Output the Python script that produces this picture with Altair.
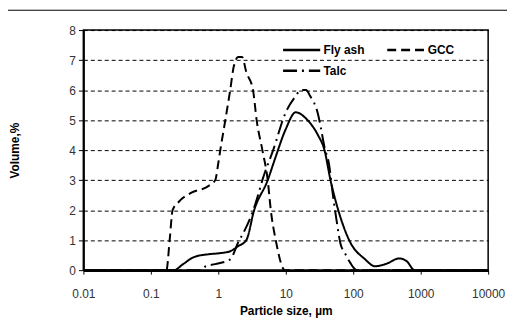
import altair as alt
import pandas as pd

# ---- data ----
fly_x = [0.01, 0.22, 0.3, 0.43, 0.71, 1.0, 1.5, 1.97, 2.6, 3.4, 5.4, 6.9, 10, 14, 21, 30, 37.5, 46, 60, 87, 150, 210, 300, 480, 620, 810, 10000]
fly_y = [0.0, 0.0, 0.2, 0.43, 0.53, 0.56, 0.63, 0.8, 1.0, 2.0, 3.0, 3.7, 4.7, 5.26, 5.0, 4.5, 4.0, 3.0, 2.0, 1.0, 0.36, 0.13, 0.2, 0.39, 0.3, 0.0, 0.0]

gcc_x = [0.01, 0.17, 0.19, 0.21, 0.26, 0.4, 0.71, 0.9, 1.0, 1.07, 1.27, 1.5, 1.7, 1.97, 2.25, 2.6, 3.27, 3.7, 4.5, 5.4, 6.0, 7.1, 9.7, 10000]
gcc_y = [0.0, 0.0, 1.0, 2.0, 2.28, 2.58, 2.8, 3.0, 3.57, 4.0, 5.0, 6.0, 6.8, 7.1, 7.1, 6.6, 6.0, 5.0, 4.0, 3.0, 2.0, 1.0, 0.0, 0.0]

talc_x = [0.01, 0.55, 0.65, 0.9, 1.5, 2.0, 2.3, 3.3, 4.0, 4.5, 6.5, 10, 13.5, 17, 20, 23, 30, 33, 37.5, 44, 50, 58, 65, 74, 90, 107, 120, 10000]
talc_y = [0.0, 0.0, 0.13, 0.2, 0.36, 0.96, 1.2, 2.0, 2.6, 3.0, 4.0, 5.26, 5.75, 6.0, 6.0, 5.8, 5.2, 4.76, 4.1, 3.5, 2.5, 1.5, 0.86, 0.6, 0.25, 0.03, 0.0, 0.0]

series = ["Fly ash", "GCC", "Talc"]
x_ticks = [0.01, 0.1, 1, 10, 100, 1000, 10000]
y_ticks = [0, 1, 2, 3, 4, 5, 6, 7, 8]

rows = []
for name, xs, ys in [("Fly ash", fly_x, fly_y), ("GCC", gcc_x, gcc_y), ("Talc", talc_x, talc_y)]:
    for i, (a, b) in enumerate(zip(xs, ys)):
        rows.append({"size": a, "vol": b, "series": name, "order": i})
df = pd.DataFrame(rows)

FONT = "Liberation Sans"

lines = alt.Chart(df).mark_line(
    color="black", strokeWidth=2, interpolate="monotone", clip=True
).encode(
    x=alt.X("size:Q",
            scale=alt.Scale(type="log", domain=[0.01, 10000], nice=False),
            axis=alt.Axis(values=x_ticks, labelExpr="datum.value + ''",
                          title="Particle size, µm", grid=False, labelFlush=False,
                          tickSize=4, labelPadding=15, titlePadding=6)),
    y=alt.Y("vol:Q",
            scale=alt.Scale(domain=[0, 8], nice=False),
            axis=alt.Axis(values=y_ticks, title="Volume,%", grid=True,
                          tickSize=5, labelPadding=3, titlePadding=48)),
    strokeDash=alt.StrokeDash(
        "series:N",
        scale=alt.Scale(domain=series, range=[[1, 0], [9, 5], [14, 5, 2, 5]]),
        legend=alt.Legend(title=None, orient="none", legendX=200, legendY=13,
                          direction="horizontal",
                          columns=2, columnPadding=21, rowPadding=7,
                          symbolType="stroke", symbolSize=1400, clipHeight=14,
                          symbolStrokeWidth=2.5, symbolStrokeColor="black",
                          labelFont=FONT, labelFontSize=12, labelFontWeight="bold",
                          labelColor="black", labelOffset=2),
    ),
    order="order:Q",
)

frame_top = alt.Chart(pd.DataFrame({"a": [0]})).mark_rule(
    color="black", strokeWidth=1, clip=False
).encode(x=alt.value(-77), x2=alt.value(440), y=alt.value(-20))
frame_left = alt.Chart(pd.DataFrame({"a": [0]})).mark_rule(
    color="black", strokeWidth=1, clip=False
).encode(x=alt.value(-77), y=alt.value(-20), y2=alt.value(292))

chart = alt.layer(frame_top, frame_left, lines).properties(
    width=408, height=242,
    autosize=alt.AutoSizeParams(type="none"),
    padding={"left": 76, "top": 21, "right": 19, "bottom": 50},
).configure_view(
    stroke="black", strokeWidth=1.5
).configure_axis(
    labelFont=FONT, labelFontSize=12, labelColor="#333333",
    titleFont=FONT, titleFontSize=12, titleFontWeight="bold", titleColor="black",
    domainColor="black", domainWidth=2, tickColor="black", tickWidth=1,
    gridColor="black", gridDash=[4, 3], gridWidth=1, gridOpacity=1,
).configure_axisX(
    domainWidth=2.5,
)

chart.save("out.html", embed_options={"renderer": "svg", "actions": False})
